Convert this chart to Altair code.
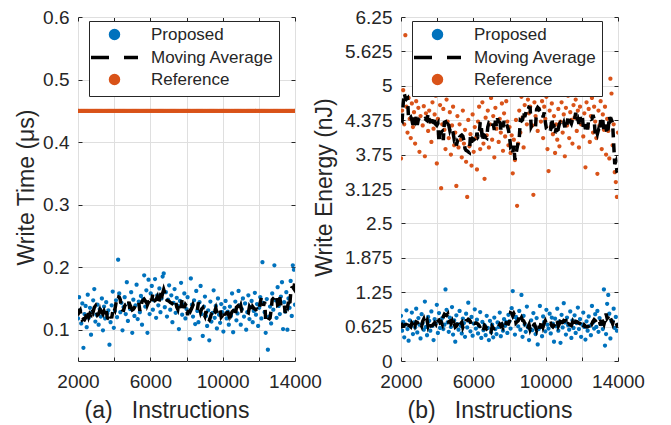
import altair as alt
import pandas as pd

# ---------------- data ----------------
X_START = 2000
X_STEP = 60

# Write time of the proposed design (us)
T_PROP = [
    0.118, 0.152, 0.131, 0.110, 0.142, 0.071, 0.125, 0.138, 0.104, 0.156,
    0.119, 0.135, 0.092, 0.128, 0.147, 0.165, 0.113, 0.124, 0.140, 0.108,
    0.133, 0.121, 0.150, 0.099, 0.137, 0.118, 0.144, 0.126, 0.131, 0.076,
    0.112, 0.139, 0.161, 0.103, 0.130, 0.147, 0.120, 0.212, 0.158, 0.128,
    0.143, 0.099, 0.136, 0.152, 0.125, 0.176, 0.114, 0.141, 0.133, 0.160,
    0.095, 0.148, 0.122, 0.139, 0.172, 0.117, 0.145, 0.128, 0.154, 0.108,
    0.149, 0.187, 0.137, 0.163, 0.095, 0.180, 0.125, 0.158, 0.170, 0.132,
    0.147, 0.181, 0.119, 0.155, 0.139, 0.166, 0.128, 0.150, 0.185, 0.190,
    0.136, 0.160, 0.121, 0.148, 0.171, 0.132, 0.155, 0.112, 0.143, 0.165,
    0.127, 0.151, 0.138, 0.101, 0.146, 0.175, 0.124, 0.140, 0.158, 0.118,
    0.133, 0.152, 0.128, 0.085, 0.182, 0.140, 0.121, 0.147, 0.109, 0.162,
    0.130, 0.112, 0.144, 0.170, 0.125, 0.090, 0.137, 0.153, 0.122, 0.106,
    0.131, 0.083, 0.145, 0.113, 0.127, 0.163, 0.119, 0.138, 0.102, 0.150,
    0.124, 0.111, 0.141, 0.128, 0.097, 0.135, 0.146, 0.118, 0.129, 0.108,
    0.137, 0.122, 0.158, 0.096, 0.131, 0.145, 0.115, 0.126, 0.162, 0.139,
    0.108, 0.133, 0.150, 0.121, 0.142, 0.100, 0.128, 0.155, 0.117, 0.136,
    0.146, 0.112, 0.130, 0.159, 0.124, 0.141, 0.106, 0.135, 0.152, 0.118,
    0.208, 0.143, 0.128, 0.095, 0.149, 0.068, 0.121, 0.137, 0.110, 0.158,
    0.132, 0.203, 0.147, 0.119, 0.168, 0.138, 0.125, 0.153, 0.176, 0.101,
    0.144, 0.129, 0.160, 0.100, 0.150, 0.135, 0.178, 0.122, 0.203, 0.196,
    0.140,
]
# Write time of the reference design (us), constant
T_REF_VALUE = 0.45

# Write energy of the proposed design (nJ)
E_PROP = [
    0.82, 0.55, 0.71, 0.43, 0.66, 0.92, 0.58, 0.37, 0.74, 0.63,
    0.88, 0.49, 0.70, 0.61, 0.95, 0.52, 0.78, 0.66, 0.41, 0.85,
    0.69, 0.57, 1.08, 0.62, 0.47, 0.80, 0.73, 0.55, 0.90, 0.64,
    0.38, 0.76, 0.68, 1.02, 0.51, 0.87, 0.60, 0.72, 0.78, 0.58,
    0.66, 1.30, 0.93, 0.70, 0.53, 0.79, 0.62, 0.98, 0.48, 0.74,
    0.35, 0.83, 0.67, 0.57, 0.91, 0.64, 0.50, 0.77, 0.69, 0.44,
    0.86, 0.61, 1.06, 0.72, 0.54, 0.80, 0.46, 0.68, 0.94, 0.59,
    0.75, 0.50, 0.63, 0.89, 0.42, 0.71, 0.56, 0.65, 0.47, 0.82,
    0.60, 0.38, 0.73, 0.52, 0.66, 0.43, 0.79, 0.58, 0.49, 0.70,
    0.62, 0.88, 0.45, 0.67, 0.55, 0.76, 0.64, 0.71, 0.51, 0.84,
    0.72, 0.59, 0.96, 1.27, 0.80, 0.48, 0.80, 0.75, 0.63, 0.91,
    0.57, 1.20, 0.44, 0.82, 0.66, 0.53, 0.99, 0.61, 0.38, 0.58,
    0.74, 0.56, 0.87, 0.64, 0.49, 0.78, 0.30, 0.58, 1.00, 0.62,
    0.45, 0.81, 0.71, 0.54, 0.93, 0.66, 0.59, 0.86, 0.50, 0.79,
    0.68, 0.35, 0.77, 0.63, 0.95, 0.55, 0.72, 0.33, 0.84, 0.61,
    1.05, 0.70, 0.48, 0.79, 0.65, 0.57, 0.90, 0.42, 0.74, 0.60,
    0.83, 0.51, 0.69, 0.97, 0.58, 0.76, 0.44, 0.66, 0.88, 0.62,
    0.39, 0.72, 0.55, 0.81, 0.64, 0.47, 1.00, 0.70, 0.59, 0.85,
    0.62, 0.91, 0.53, 0.78, 0.67, 0.67, 0.58, 1.30, 0.28, 0.49,
    1.04, 1.20, 0.86, 0.41, 0.72, 0.72, 0.95, 0.60, 0.80, 0.55,
    0.66,
]

# Write energy of the reference design (nJ)
E_REF = [
    3.68, 4.55, 4.92, 4.30, 5.92, 4.62, 4.15, 4.78, 4.40, 4.05,
    4.68, 4.25, 4.52, 3.95, 4.72, 4.38, 4.60, 3.80, 4.45, 4.85,
    4.28, 4.63, 3.72, 4.50, 4.90, 4.18, 4.55, 4.35, 3.98, 4.70,
    4.22, 4.48, 4.82, 3.59, 4.40, 4.12, 4.65, 3.14, 4.30, 4.58,
    4.20, 3.85, 4.75, 4.35, 4.05, 4.52, 3.75, 4.28, 4.62, 3.92,
    4.15, 3.18, 4.45, 3.88, 4.30, 4.02, 3.70, 4.55, 3.95, 4.20,
    3.62, 2.98, 4.38, 3.90, 4.12, 3.55, 4.48, 3.80, 4.25, 4.05,
    3.48, 4.35, 4.62, 3.85, 4.18, 4.70, 3.95, 3.31, 4.42, 4.10,
    4.55, 3.88, 4.30, 4.78, 4.02, 4.45, 3.70, 4.60, 4.22, 4.85,
    3.98, 4.40, 4.15, 4.68, 3.82, 4.50, 4.08, 4.72, 4.35, 3.92,
    4.25, 3.78, 4.10, 3.41, 4.02, 3.65, 4.38, 2.82, 3.95, 4.55,
    4.15, 4.80, 4.42, 3.88, 4.65, 4.92, 4.30, 4.75, 4.50, 4.62,
    4.85, 4.28, 3.02, 4.70, 4.45, 4.95, 4.18, 4.58, 4.88, 4.35,
    4.72, 4.05, 4.62, 4.40, 4.80, 3.85, 3.45, 4.55, 4.25, 4.68,
    4.12, 4.45, 3.78, 4.30, 4.02, 4.58, 3.90, 4.35, 4.70, 4.15,
    4.48, 3.72, 4.60, 4.28, 4.82, 4.05, 4.52, 4.38, 3.95, 4.65,
    4.42, 4.75, 4.18, 4.55, 3.88, 4.62, 4.30, 4.85, 4.08, 4.50,
    3.52, 4.70, 4.25, 4.58, 3.98, 4.45, 4.78, 4.15, 4.62, 4.35,
    4.05, 3.40, 4.55, 4.28, 4.72, 3.85, 4.48, 4.20, 4.62, 3.75,
    4.40, 4.18, 3.68, 5.13, 4.86, 3.92, 4.30, 3.43, 3.25, 2.98,
    4.15,
]

SERIES = ["Proposed", "Moving Average", "Reference"]
COLORS = ["#0072BD", "#000000", "#D95319"]

X_TICKS = [2000, 4000, 6000, 8000, 10000, 12000, 14000]
T_TICKS = [0.1, 0.2, 0.3, 0.4, 0.5, 0.6]
E_TICKS = [0, 0.625, 1.25, 1.875, 2.5, 3.125, 3.75, 4.375, 5, 5.625, 6.25]

N = len(T_PROP)
X = [X_START + X_STEP * i for i in range(N)]

df_t = pd.DataFrame({
    "x": X + X,
    "v": T_PROP + [T_REF_VALUE] * N,
    "s": ["Proposed"] * N + ["Reference"] * N,
})
df_e = pd.DataFrame({
    "x": X + X,
    "v": E_REF + E_PROP,
    "s": ["Reference"] * N + ["Proposed"] * N,
})

# ---------------- style ----------------
W, H = 217, 344
FONT = "Liberation Sans"
TXT = "#262626"
GRID = "#dfdfdf"

CIRCLE = "M0.8,0A0.8,0.8 0 1,1 -0.8,0A0.8,0.8 0 1,1 0.8,0Z"
DASHES = "M-4.7,0H-1.1M1.9,0H4.7"
SHAPES = [CIRCLE, DASHES, CIRCLE]


def make_legend():
    return alt.Legend(
        title=None, orient="none", legendX=11, legendY=4,
        padding=5, rowPadding=2, labelFontSize=17, labelFont=FONT,
        labelColor=TXT, symbolSize=100, symbolStrokeWidth=3.5,
        symbolOffset=12, labelOffset=28, fillColor="white",
        strokeColor=TXT, zindex=1, symbolOpacity=1,
    )


def x_main(title):
    return alt.Axis(
        values=X_TICKS,
        labelExpr="(datum.value - 2000) % 4000 === 0 ? format(datum.value, 'd') : ''",
        grid=True, gridColor=GRID, ticks=False, tickSize=0, domain=False,
        labelFontSize=19, labelFont=FONT, labelColor=TXT, labelPadding=11,
        labelFlush=False, labelOverlap=False,
        title=title, titleFontSize=23, titleFont=FONT, titleColor=TXT,
        titleFontWeight="normal", titleX=6, titleY=56, titleAlign="left",
        titleBaseline="alphabetic",
    )


def y_main(title, values, title_x):
    return alt.Axis(
        values=values, labelExpr="'' + datum.value",
        grid=True, gridColor=GRID, ticks=False, tickSize=0, domain=False,
        labelFontSize=19, labelFont=FONT, labelColor=TXT, labelPadding=9,
        labelFlush=False, labelOverlap=False,
        title=title, titleFontSize=23, titleFont=FONT, titleColor=TXT,
        titleFontWeight="normal", titleX=title_x, titleY=170,
        titleBaseline="alphabetic",
    )


X_SEC = alt.Axis(orient="top", values=X_TICKS, labels=False, ticks=False,
                 domain=False, grid=True, gridColor=TXT, gridWidth=1,
                 gridDash=[4, H - 8, 4, 1000], title=None)


def y_sec(values):
    return alt.Axis(orient="right", values=values, labels=False, ticks=False,
                    domain=False, grid=True, gridColor=TXT, gridWidth=1,
                    gridDash=[4, W - 8, 4, 1000], title=None)


def panel(df, ydom, yticks, ytitle, ytitle_x, xtitle, ma_filter):
    xs = alt.Scale(domain=[2000, 14000], nice=False, zero=False)
    ys = alt.Scale(domain=ydom, nice=False, zero=False)
    cs = alt.Scale(domain=SERIES, range=COLORS)
    ss = alt.Scale(domain=SERIES, range=SHAPES)
    pts = alt.Chart(df).mark_point(filled=True, size=28, opacity=1,
                                   strokeWidth=0, clip=True).encode(
        x=alt.X("x:Q", scale=xs, axis=x_main(xtitle)),
        y=alt.Y("v:Q", scale=ys, axis=y_main(ytitle, yticks, ytitle_x)),
        fill=alt.Fill("s:N", scale=cs, legend=make_legend()),
        stroke=alt.Stroke("s:N", scale=cs, legend=make_legend()),
        shape=alt.Shape("s:N", scale=ss, legend=make_legend()),
    )
    base = alt.Chart(df)
    if ma_filter:
        base = base.transform_filter(alt.datum.s == "Proposed")
    ma = base.transform_window(
        ma="mean(v)", frame=[-2, 2], groupby=["s"], sort=[{"field": "x"}]
    ).mark_line(color="#000000", strokeWidth=3.5, strokeDash=[9, 6],
                clip=True).encode(
        x=alt.X("x:Q", scale=xs, axis=X_SEC),
        y=alt.Y("ma:Q", scale=ys, axis=y_sec(yticks)),
        detail="s:N",
    )
    return alt.layer(pts, ma).resolve_axis(x="independent", y="independent").properties(
        width=W, height=H)


left = panel(df_t, [0.05, 0.6], T_TICKS, "Write Time (\u03bcs)", -45,
             "(a)\u00a0\u00a0\u00a0Instructions", True)
right = panel(df_e, [0, 6.25], E_TICKS, "Write Energy (nJ)", -70,
              "(b)\u00a0\u00a0\u00a0Instructions", False)

chart = alt.hconcat(left, right, spacing=106, bounds="flush").resolve_scale(
    fill="independent", stroke="independent", shape="independent"
).resolve_legend(
    fill="independent", stroke="independent", shape="independent"
).properties(
    padding={"left": 6, "top": -1, "right": 5, "bottom": 2}
).configure(font=FONT).configure_view(stroke=TXT, strokeWidth=1)

chart.save("out.html", embed_options={"renderer": "svg", "actions": False})
